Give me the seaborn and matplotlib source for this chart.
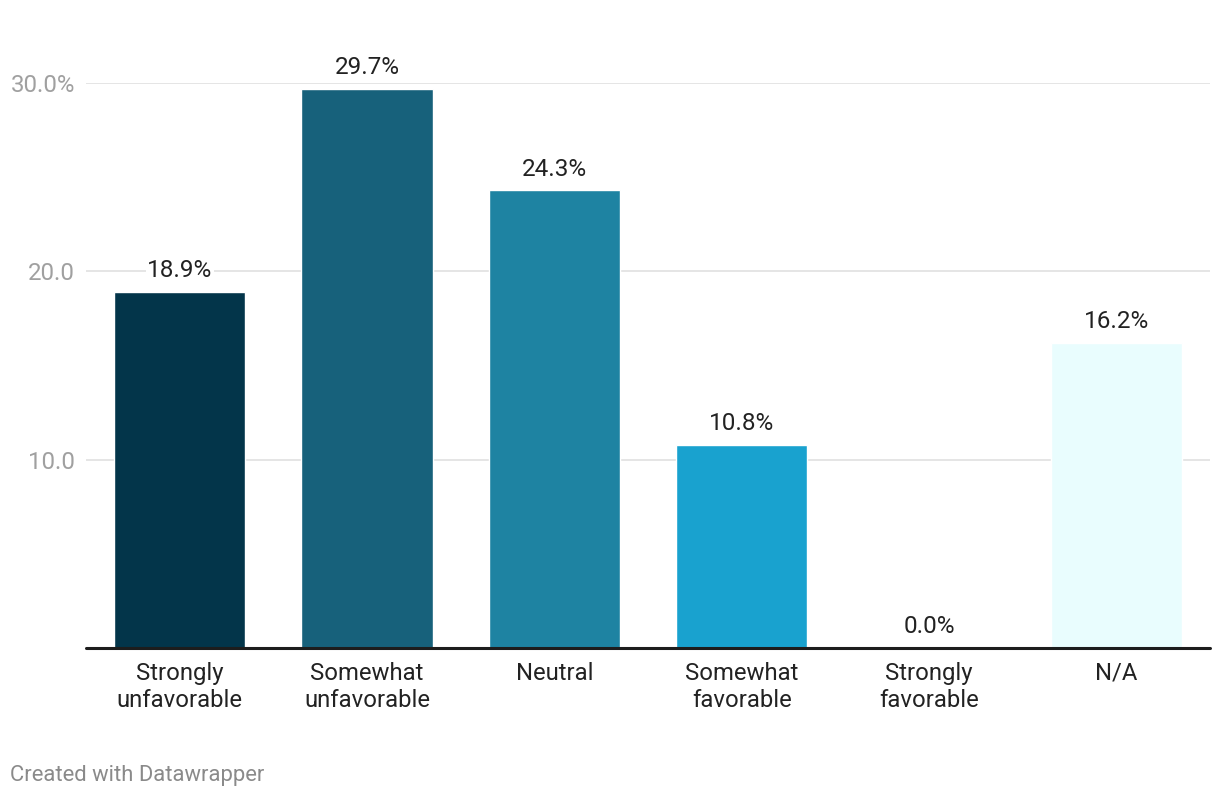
import pandas as pd
import seaborn as sns
import matplotlib.pyplot as plt

# Chart data
categories = ["Strongly\nunfavorable", "Somewhat\nunfavorable", "Neutral",
              "Somewhat\nfavorable", "Strongly\nfavorable", "N/A"]
values = [18.9, 29.7, 24.3, 10.8, 0.0, 16.2]
bar_colors = ["#03354a", "#17617b", "#1e83a2", "#19a2cf", "#a3e6f0", "#e9fdfe"]
y_ticks = [10, 20, 30]
y_tick_labels = ["10.0", "20.0", "30.0%"]

sns.set_theme(style="white")
plt.rcParams['font.family'] = ['Roboto', 'DejaVu Sans']

df = pd.DataFrame({"category": categories, "value": values})

fig = plt.figure(figsize=(12.2, 7.96), dpi=100)
ax = fig.add_axes([86 / 1220, 148 / 796, 1124 / 1220, 565 / 796])

# Gridlines behind bars
for t in y_ticks:
    ax.axhline(t, color="#e3e3e3", linewidth=1.3, zorder=0)

sns.barplot(data=df, x="category", y="value", hue="category",
            palette=bar_colors, legend=False, width=0.70, ax=ax,
            saturation=1, zorder=2)

ax.set_ylim(0, 30)
ax.set_xlim(-0.5, len(categories) - 0.5)
ax.axhline(0, color="#1d1d1d", linewidth=2.2, zorder=3, clip_on=False)

# Value labels with white background (they break the gridlines)
for i, v in enumerate(values):
    ax.annotate(f"{v:.1f}%", xy=(i, v), xytext=(0, 7),
                textcoords="offset points", ha="center", va="bottom",
                fontsize=17.5, color="#222222", clip_on=False, zorder=4,
                bbox=dict(facecolor="white", edgecolor="none", pad=1))

ax.set_yticks(y_ticks)
ax.set_yticklabels(y_tick_labels, color="#a0a0a0", fontsize=17.3)
ax.tick_params(axis="y", length=0, pad=8)
ax.tick_params(axis="x", length=0, pad=10, labelsize=17.2, labelcolor="#222222")
for lbl in ax.get_xticklabels():
    lbl.set_linespacing(1.25)
ax.set_xlabel("")
ax.set_ylabel("")
for spine in ax.spines.values():
    spine.set_visible(False)

fig.text(10 / 1220, 1 - 775 / 796, "Created with Datawrapper",
         fontsize=15.8, color="#8a8a8a", va="center", ha="left")

fig.savefig("out.png", dpi=100)
